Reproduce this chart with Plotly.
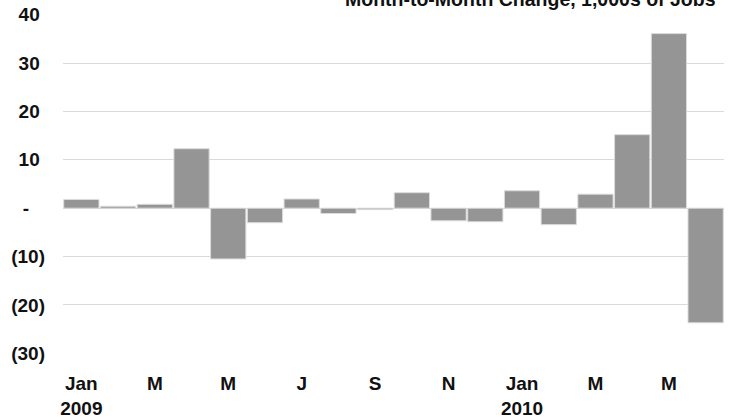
import plotly.graph_objects as go

# Monthly change in jobs, thousands (Jan 2009 - Jun 2010)
months = ["Jan 2009", "Feb 2009", "Mar 2009", "Apr 2009", "May 2009", "Jun 2009",
          "Jul 2009", "Aug 2009", "Sep 2009", "Oct 2009", "Nov 2009", "Dec 2009",
          "Jan 2010", "Feb 2010", "Mar 2010", "Apr 2010", "May 2010", "Jun 2010"]
change = [1.8, 0.4, 0.8, 12.3, -10.5, -3.0,
          1.9, -1.1, -0.3, 3.2, -2.6, -2.8,
          3.6, -3.4, 2.9, 15.2, 36.1, -23.7]

x_tick_months = ["Jan 2009", "Mar 2009", "May 2009", "Jul 2009", "Sep 2009",
                 "Nov 2009", "Jan 2010", "Mar 2010", "May 2010"]
x_tick_text = ["Jan<br>2009", "M", "M", "J", "S", "N", "Jan<br>2010", "M", "M"]

y_tick_vals = [40, 30, 20, 10, 0, -10, -20, -30]
y_tick_text = ["40\u00a0", "30\u00a0", "20\u00a0", "10\u00a0", "-\u00a0\u00a0\u00a0",
               "(10)", "(20)", "(30)"]

title_text = "Month-to-Month Change, 1,000s of Jobs"

fig = go.Figure(
    go.Bar(
        x=months,
        y=change,
        marker=dict(color="#959595", line=dict(color="#dcdcdc", width=1)),
    )
)

font_main = dict(family="Arial, Liberation Sans, sans-serif", size=19,
                 color="#111111", weight="bold")

fig.update_layout(
    width=732,
    height=417,
    margin=dict(l=63, r=8, t=14, b=63, autoexpand=False),
    paper_bgcolor="white",
    plot_bgcolor="white",
    bargap=0.04,
    showlegend=False,
    xaxis=dict(
        type="category",
        categoryorder="array",
        categoryarray=months,
        tickmode="array",
        tickvals=x_tick_months,
        ticktext=x_tick_text,
        tickfont=font_main,
        showgrid=False,
        showline=False,
        ticks="",
        ticklabelstandoff=16,
        tickangle=0,
        automargin=False,
    ),
    yaxis=dict(
        range=[-30.15, 40.15],
        tickmode="array",
        tickvals=y_tick_vals,
        ticktext=y_tick_text,
        tickfont=font_main,
        showgrid=True,
        gridcolor="#dadada",
        gridwidth=1,
        zeroline=True,
        zerolinecolor="#dadada",
        zerolinewidth=1,
        showline=False,
        ticks="",
        ticklabelstandoff=17,
        automargin=False,
    ),
    annotations=[
        dict(
            text=title_text,
            xref="paper", yref="paper",
            x=0.991, y=1,
            xanchor="right", yanchor="middle",
            yshift=15,
            showarrow=False,
            font=dict(font_main, size=19.5),
        )
    ],
)

fig.write_html("out.html")
